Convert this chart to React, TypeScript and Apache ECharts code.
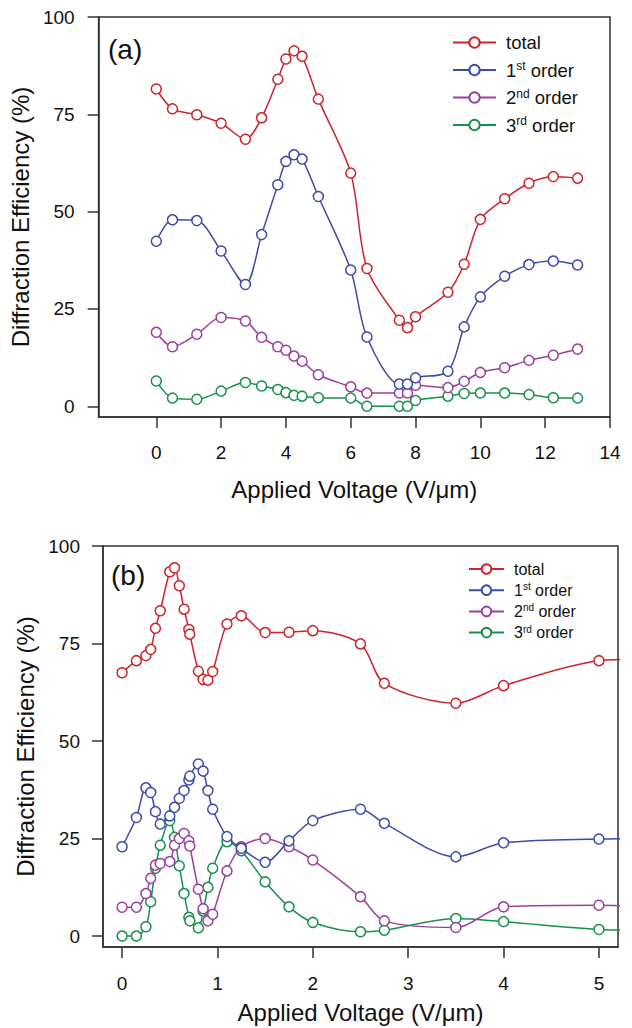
import React, { useEffect, useRef } from "react";
import * as echarts from "echarts";

// ---------- Panel (a) ----------
const X_A = [0, 0.5, 1.25, 2, 2.75, 3.25, 3.75, 4, 4.25, 4.5, 5, 6, 6.5, 7.5, 7.75, 8, 9, 9.5, 10, 10.75, 11.5, 12.25, 13];
const TOTAL_A = [81.5, 76.4, 74.9, 72.7, 68.6, 74.1, 84.0, 89.2, 91.3, 89.9, 78.9, 59.9, 35.4, 22.1, 20.2, 23.0, 29.3, 36.5, 48.0, 53.3, 57.3, 59.0, 58.6];
const FIRST_A = [42.4, 47.9, 47.7, 39.9, 31.3, 44.1, 56.9, 62.9, 64.6, 63.5, 53.9, 35.0, 17.8, 5.7, 5.7, 7.3, 9.0, 20.4, 28.1, 33.4, 36.4, 37.3, 36.3];
const SECOND_A = [19.0, 15.3, 18.5, 22.8, 21.9, 17.7, 15.3, 14.4, 12.9, 11.6, 8.1, 5.0, 3.4, 3.4, 3.4, 5.4, 4.8, 6.4, 8.7, 9.9, 11.8, 13.1, 14.7];
const THIRD_A = [6.5, 2.1, 1.8, 3.9, 6.1, 5.2, 4.3, 3.5, 2.8, 2.6, 2.2, 2.1, 0.0, 0.0, 0.0, 1.5, 2.6, 3.3, 3.4, 3.4, 3.0, 2.2, 2.1];
const XTICKS_A = [0, 2, 4, 6, 8, 10, 12, 14];

// ---------- Panel (b) ----------
const X_B = [0, 0.15, 0.25, 0.3, 0.35, 0.4, 0.5, 0.55, 0.6, 0.65, 0.7, 0.71, 0.8, 0.85, 0.9, 0.95, 1.1, 1.25, 1.5, 1.75, 2, 2.5, 2.75, 3.5, 4, 5, 5.5];
const TOTAL_B = [67.5, 70.6, 71.9, 73.5, 78.9, 83.4, 93.4, 94.4, 89.8, 83.8, 78.6, 77.4, 67.9, 65.8, 65.6, 67.8, 80.0, 82.1, 77.8, 77.9, 78.3, 74.9, 64.8, 59.7, 64.2, 70.6, 71.0];
const FIRST_B = [22.9, 30.4, 38.0, 36.8, 31.9, 28.7, 30.8, 33.0, 35.3, 37.3, 40.0, 41.0, 44.1, 42.3, 37.3, 32.5, 25.5, 22.5, 18.9, 24.4, 29.6, 32.5, 28.9, 20.3, 23.9, 24.9, 25.0];
const SECOND_B = [7.4, 7.4, 10.9, 14.8, 18.2, 18.6, 19.1, 23.3, 25.0, 26.3, 24.4, 23.1, 12.0, 7.0, 3.9, 5.6, 16.7, 22.9, 25.0, 22.9, 19.5, 10.1, 3.9, 2.2, 7.5, 7.9, 7.5];
const THIRD_B = [0, 0, 2.4, 8.8, 17.4, 23.3, 29.6, 25.3, 18.0, 10.9, 4.8, 3.9, 2.1, 6.4, 12.5, 17.4, 24.2, 21.9, 13.9, 7.5, 3.5, 1.1, 1.5, 4.5, 3.7, 1.7, 1.5];
const XTICKS_B = [0, 1, 2, 3, 4, 5];

const YTICKS = [0, 25, 50, 75, 100];
const NAMES = ["total", "1st order", "2nd order", "3rd order"];
const COLORS = ["#cc2229", "#3b4ba8", "#9b3f9f", "#16904a"];

const FONT = "Liberation Sans, Arial, Helvetica, sans-serif";
const AXIS_COLOR = "#333";

function pairs(xs: number[], ys: number[]) {
  return xs.map((x, i) => [x, ys[i]]);
}

function legendFormatter(name: string) {
  if (name === "total") return "{f|total}";
  const num = name.charAt(0);
  const sup = name.slice(1, 3);
  return `{f|${num}}{s|${sup}}{a| order}`;
}

export default function App() {
  const ref = useRef<HTMLDivElement>(null);

  useEffect(() => {
    if (!ref.current) return;
    const chart = echarts.init(ref.current, undefined, { renderer: "svg" });

    const makeSeries = (idx: number, gi: number, xs: number[], ys: number[]) => ({
      type: "line",
      name: NAMES[idx],
      xAxisIndex: gi,
      yAxisIndex: gi,
      data: pairs(xs, ys),
      smooth: 0.3,
      symbol: "circle",
      symbolSize: 10,
      clip: true,
      z: 10 - idx,
      lineStyle: { color: COLORS[idx], width: 1.5 },
      itemStyle: { color: "#fff", borderColor: COLORS[idx], borderWidth: 1.5 },
      emphasis: { disabled: true },
    });

    const xAxisBase = (min: number, max: number, ticks: number[], gi: number, nameGap: number, margin: number) => ({
      type: "value",
      gridIndex: gi,
      min,
      max,
      name: "Applied Voltage (V/\u03bcm)",
      nameLocation: "middle",
      nameGap,
      nameTextStyle: { fontFamily: FONT, fontSize: 24, color: "#111" },
      axisLine: { show: true, onZero: false, lineStyle: { color: AXIS_COLOR, width: 1.5 } },
      axisTick: { show: true, inside: false, length: 11, customValues: ticks, lineStyle: { color: AXIS_COLOR, width: 1.5 } },
      axisLabel: { show: true, customValues: ticks, margin, fontFamily: FONT, fontSize: 19, color: "#111" },
      splitLine: { show: false },
    });

    const yAxisBase = (min: number, gi: number, nameGap: number, margin: number) => ({
      type: "value",
      gridIndex: gi,
      min,
      max: 100,
      name: "Diffraction Efficiency (%)",
      nameLocation: "middle",
      nameGap,
      nameTextStyle: { fontFamily: FONT, fontSize: 24, color: "#111" },
      axisLine: { show: true, onZero: false, lineStyle: { color: AXIS_COLOR, width: 1.5 } },
      axisTick: { show: true, inside: false, length: 11, customValues: YTICKS, lineStyle: { color: AXIS_COLOR, width: 1.5 } },
      axisLabel: { show: true, customValues: YTICKS, margin, fontFamily: FONT, fontSize: 19, color: "#111" },
      splitLine: { show: false },
    });

    const option = {
      animation: false,
      backgroundColor: "#fff",
      grid: [
        { left: 97, top: 17, width: 513, height: 400, show: true, borderColor: AXIS_COLOR, borderWidth: 1.5 },
        { left: 103, top: 546, width: 515, height: 401, show: true, borderColor: AXIS_COLOR, borderWidth: 1.5 },
      ],
      xAxis: [
        xAxisBase(-1.78, 14, XTICKS_A, 0, 60, 26),
        xAxisBase(-0.2, 5.2, XTICKS_B, 1, 53, 27),
      ],
      yAxis: [yAxisBase(-2.75, 0, 60, 24), yAxisBase(-2.8, 1, 66, 23)],
      legend: [
        {
          data: NAMES,
          left: 452,
          top: 33,
          orient: "vertical",
          padding: 0,
          itemWidth: 43,
          itemHeight: 13,
          itemGap: 8,
          selectedMode: false,
          formatter: legendFormatter,
          textStyle: {
            color: "#111",
            fontFamily: FONT,
            rich: {
              f: { fontSize: 18.5, lineHeight: 20, fontFamily: FONT, color: "#111", padding: [0, 0, 0, 5] },
              a: { fontSize: 18.5, lineHeight: 20, fontFamily: FONT, color: "#111" },
              s: { fontSize: 12, lineHeight: 10, verticalAlign: "top", fontFamily: FONT, color: "#111" },
            },
          },
        },
        {
          data: NAMES,
          left: 468,
          top: 561,
          orient: "vertical",
          padding: 0,
          itemWidth: 35,
          itemHeight: 12,
          itemGap: 4.7,
          selectedMode: false,
          formatter: legendFormatter,
          textStyle: {
            color: "#111",
            fontFamily: FONT,
            rich: {
              f: { fontSize: 16, lineHeight: 17, fontFamily: FONT, color: "#111", padding: [0, 0, 0, 5] },
              a: { fontSize: 16, lineHeight: 17, fontFamily: FONT, color: "#111" },
              s: { fontSize: 10, lineHeight: 8, verticalAlign: "top", fontFamily: FONT, color: "#111" },
            },
          },
        },
      ],
      graphic: [
        { type: "text", left: 108, top: 35, style: { text: "(a)", fontFamily: FONT, fontSize: 28, fill: "#111" } },
        { type: "text", left: 111, top: 561, style: { text: "(b)", fontFamily: FONT, fontSize: 28, fill: "#111" } },
      ],
      series: [
        makeSeries(0, 0, X_A, TOTAL_A),
        makeSeries(1, 0, X_A, FIRST_A),
        makeSeries(2, 0, X_A, SECOND_A),
        makeSeries(3, 0, X_A, THIRD_A),
        makeSeries(0, 1, X_B, TOTAL_B),
        makeSeries(1, 1, X_B, FIRST_B),
        makeSeries(2, 1, X_B, SECOND_B),
        makeSeries(3, 1, X_B, THIRD_B),
      ],
    };

    chart.setOption(option as any);
    return () => chart.dispose();
  }, []);

  return (
    <div
      ref={ref}
      style={{ position: "absolute", left: 0, top: 0, width: 632, height: 1028, background: "#fff" }}
    />
  );
}
